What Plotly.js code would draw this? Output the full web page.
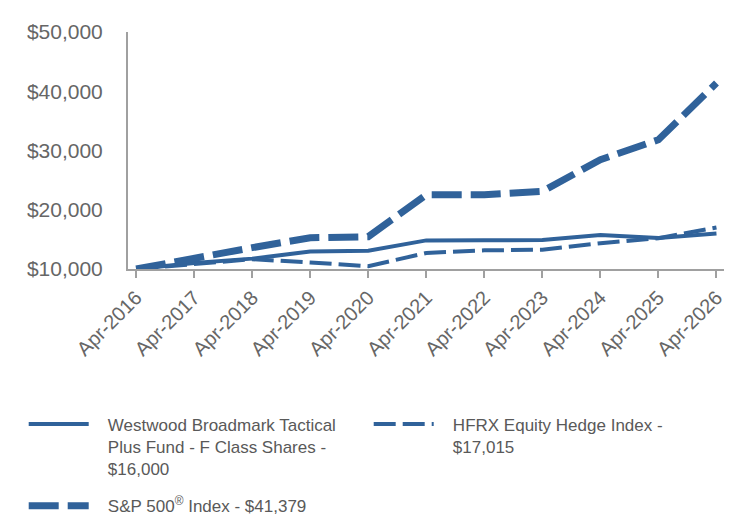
<!DOCTYPE html>
<html>
<head>
<meta charset="utf-8">
<script src="https://cdn.plot.ly/plotly-3.0.1.min.js"></script>
<style>html,body{margin:0;padding:0;background:#fff;}#chart{width:744px;height:516px;}</style>
</head>
<body>
<div id="chart"></div>
<script>
const periods = ["Apr-2016","Apr-2017","Apr-2018","Apr-2019","Apr-2020","Apr-2021","Apr-2022","Apr-2023","Apr-2024","Apr-2025","Apr-2026"];
const fundValues = [10000, 11010, 11750, 12950, 13100, 14830, 14850, 14900, 15750, 15230, 16000];
const hfrxValues = [10000, 10900, 11650, 11100, 10480, 12700, 13150, 13250, 14350, 15200, 17015];
const spValues = [10000, 11950, 13600, 15280, 15450, 22540, 22540, 23100, 28450, 31820, 41379];
const yTickVals = [10000, 20000, 30000, 40000, 50000];
const yTickText = ["$10,000", "$20,000", "$30,000", "$40,000", "$50,000"];

const pad = "\u00a0\u00a0\u00a0";
const fundLines = ["Westwood Broadmark Tactical", "Plus Fund - F Class Shares -", "$16,000"];
const hfrxLines = ["HFRX Equity Hedge Index -", "$17,015"];
const spLines = ["S&P 500<sup>®</sup> Index - $41,379"];
const label = lines => lines.map(s => pad + s).join("<br>");

const blue = "#30629a";
const traces = [
  {x: periods, y: fundValues, name: label(fundLines), type: "scatter", mode: "lines",
   line: {color: blue, width: 4}, legend: "legend"},
  {x: periods, y: hfrxValues, name: label(hfrxLines), type: "scatter", mode: "lines",
   line: {color: blue, width: 4, dash: "22px,7px"}, legend: "legend"},
  {x: periods, y: spValues, name: label(spLines), type: "scatter", mode: "lines",
   line: {color: blue, width: 7, dash: "30px,9px"}, legend: "legend2"}
];

const legendFont = {family: "Liberation Sans, Arial, sans-serif", size: 17, color: "#595959"};
const layout = {
  width: 744, height: 516,
  margin: {l: 128, r: 20, t: 32, b: 247, autoexpand: false},
  paper_bgcolor: "#fff", plot_bgcolor: "#fff",
  showlegend: true,
  xaxis: {
    type: "category", range: [-0.14, 10.13],
    showgrid: false, zeroline: false,
    showline: true, linecolor: "#a0a0a0", linewidth: 2,
    ticks: "outside", ticklen: 7, tickwidth: 2, tickcolor: "#a0a0a0",
    tickangle: -45,
    tickfont: {family: "Liberation Sans, Arial, sans-serif", size: 20, color: "#666666"}
  },
  yaxis: {
    range: [10000, 50000], tickmode: "array", tickvals: yTickVals, ticktext: yTickText,
    showgrid: false, zeroline: false,
    showline: true, linecolor: "#a0a0a0", linewidth: 2,
    ticks: "outside", ticklen: 19, tickcolor: "rgba(0,0,0,0)",
    tickfont: {family: "Liberation Sans, Arial, sans-serif", size: 21, color: "#666666"}
  },
  legend: {
    orientation: "h", x: -0.175, xanchor: "left", y: -0.58, yanchor: "top",
    valign: "top", entrywidth: 270, entrywidthmode: "pixels",
    font: legendFont, itemwidth: 60, bgcolor: "rgba(0,0,0,0)"
  },
  legend2: {
    orientation: "h", x: -0.175, xanchor: "left", y: -0.925, yanchor: "top",
    valign: "top", font: legendFont, itemwidth: 60, bgcolor: "rgba(0,0,0,0)"
  }
};

Plotly.newPlot("chart", traces, layout, {displayModeBar: false, staticPlot: true});
</script>
</body>
</html>
